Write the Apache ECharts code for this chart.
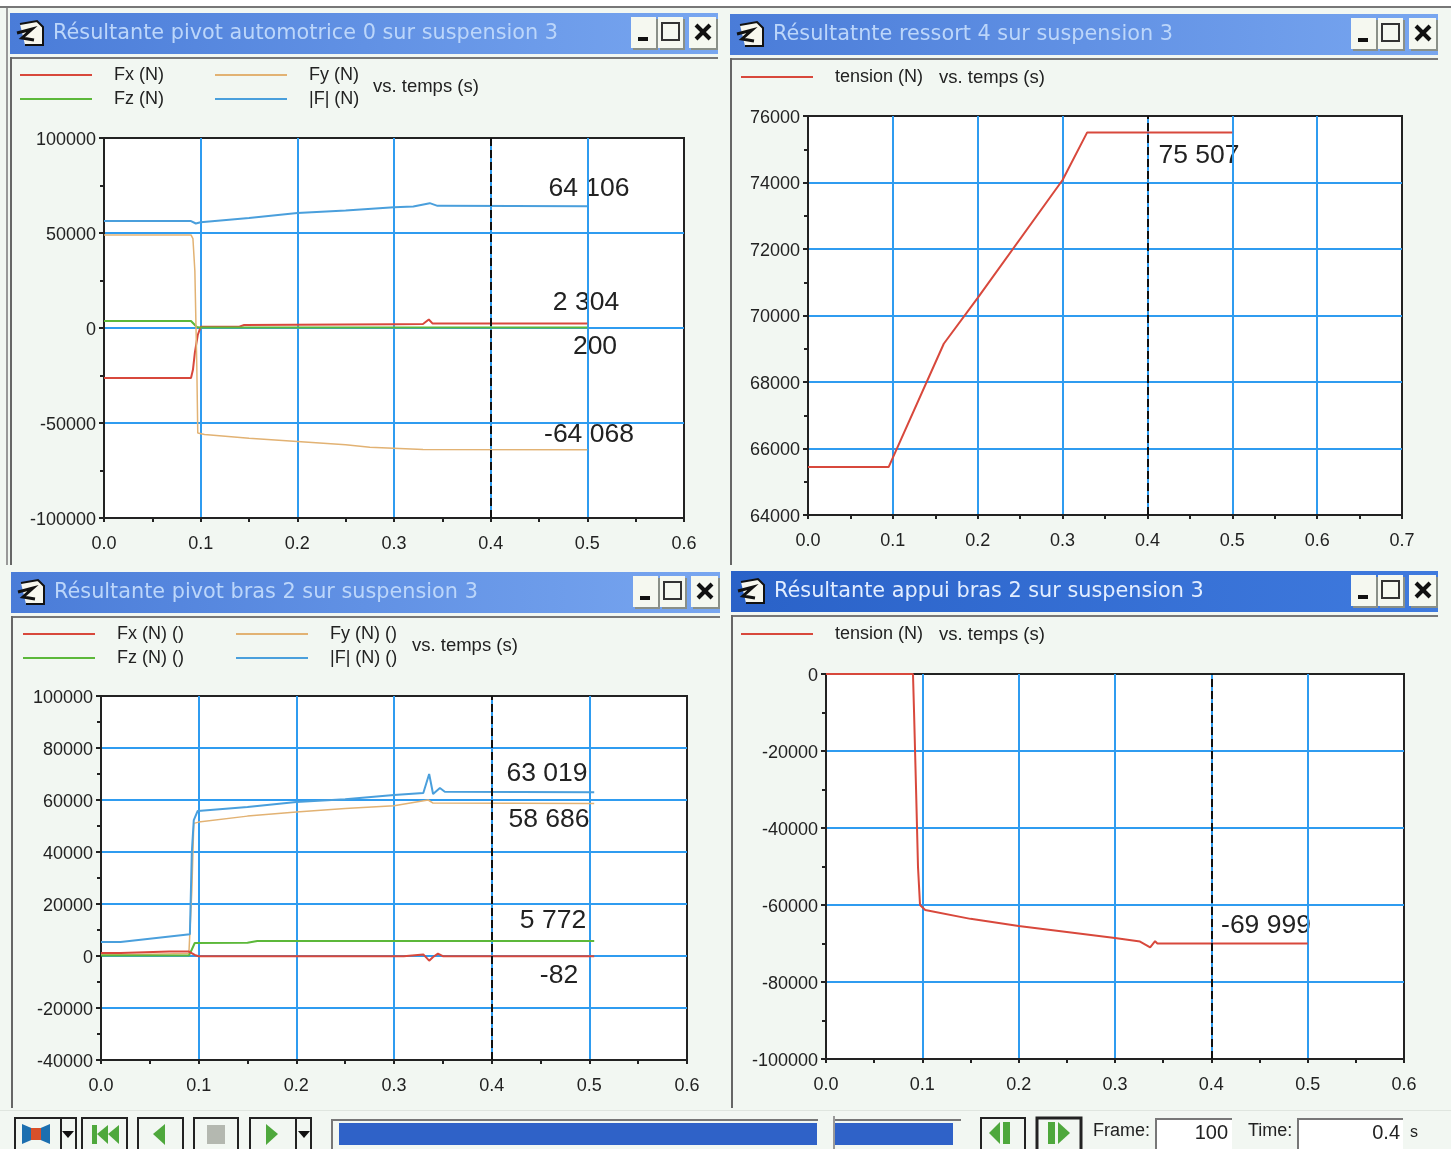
<!DOCTYPE html>
<html>
<head>
<meta charset="utf-8">
<title>Résultantes sur suspension 3</title>
<style>
html,body{margin:0;padding:0;background:#f2f7f2;}
#main{width:1451px;height:1149px;}
</style>
<script src="https://cdn.jsdelivr.net/npm/echarts@6/dist/echarts.min.js"></script>
</head>
<body>
<div id="main"></div>
<script>
// fenetre 1 : pivot automotrice
var a_fxT = [0,0.09,0.092,0.094,0.095,0.097,0.1,0.14,0.145,0.3,0.33,0.336,0.34,0.5];
var a_fx  = [-26300,-26300,-22000,-13000,-13000,-3700,600,700,1600,2000,2100,4500,2304,2304];
var a_fyT = [0,0.09,0.092,0.094,0.096,0.097,0.104,0.15,0.2,0.25,0.275,0.33,0.5];
var a_fy  = [49000,49000,47000,30000,-20000,-55300,-56000,-58000,-59800,-61500,-62800,-64000,-64068];
var a_fzT = [0,0.09,0.096,0.1,0.5];
var a_fz  = [3700,3700,500,200,200];
var a_frT = [0,0.09,0.095,0.1,0.15,0.2,0.25,0.3,0.32,0.337,0.345,0.5];
var a_fr  = [56300,56300,55000,55700,57900,60500,61800,63500,64000,65700,64300,64106];

// fenetre 2 : ressort
var b_t = [0,0.095,0.16,0.2,0.3,0.329,0.5];
var b_v = [65440,65440,69150,70530,74075,75507,75507];

// fenetre 3 : pivot bras
var c_fxT = [0,0.02,0.07,0.09,0.096,0.1,0.31,0.312,0.33,0.336,0.34,0.345,0.35,0.505];
var c_fx  = [1200,1200,1700,1700,400,-82,-82,600,600,-1800,-400,900,-82,-82];
var c_fyT = [0,0.02,0.09,0.093,0.095,0.1,0.15,0.2,0.25,0.3,0.335,0.34,0.505];
var c_fy  = [500,500,1000,25000,51000,51500,53800,55400,56700,57800,60000,58800,58686];
var c_fzT = [0,0.09,0.093,0.096,0.15,0.16,0.505];
var c_fz  = [200,200,2500,5000,5100,5772,5772];
var c_frT = [0,0.02,0.091,0.093,0.095,0.099,0.15,0.2,0.25,0.3,0.33,0.336,0.34,0.347,0.352,0.505];
var c_fr  = [5400,5400,8400,40000,52300,55800,57300,59200,60300,61900,62700,70000,62300,64600,63200,63019];

// fenetre 4 : appui bras
var d_t = [0,0.0903,0.0914,0.0935,0.0955,0.0976,0.103,0.15,0.2,0.3,0.326,0.3365,0.3416,0.344,0.5];
var d_v = [0,0,-9900,-30100,-50100,-60000,-61300,-63600,-65450,-68600,-69500,-71000,-69400,-69999,-69999];

var frameTime = 0.4;
var titles = ['Résultante pivot automotrice 0 sur suspension 3','Résultatnte ressort 4 sur suspension 3','Résultante pivot bras 2 sur suspension 3','Résultante appui bras 2 sur suspension 3'];
var namesA = ['Fx (N)','Fy (N)','Fz (N)','|F| (N)'];
var namesC = ['Fx (N) ()','Fy (N) ()','Fz (N) ()','|F| (N) ()'];
var nameTension = 'tension (N)';
var xLabel = 'vs. temps (s)';
var notesA = ['64 106','2 304','200','-64 068'];
var notesB = ['75 507'];
var notesC = ['63 019','58 686','5 772','-82'];
var notesD = ['-69 999'];
var frameValue = '100', timeValue = '0.4';

var RED = '#d8483c', TAN = '#e2b273', GREEN = '#5cb83a', BLUE = '#4a9fdc';
var GRIDC = '#2f9cf0';
var FONT = '"Liberation Sans",Arial,sans-serif';
var TITLEFONT = '"DejaVu Sans",sans-serif';

function zip(t, v){
    var out = [];
    for(var i=0;i<t.length;i++){ out.push([t[i], v[i]]); }
    return out;
}
function fmtX(v){ return v.toFixed(1); }
function fmtY(v){ return String(v); }

function gridOf(l,t,r,b){
    return {left:l, top:t, width:r-l, height:b-t, show:true, backgroundColor:'#fff', borderColor:'#222', borderWidth:2};
}
function xAxisOf(idx, max){
    return {
        type:'value', gridIndex:idx, min:0, max:max, interval:0.1,
        axisLine:{show:true, onZero:false, lineStyle:{color:'#222', width:2}},
        axisTick:{show:true, length:4, lineStyle:{color:'#222', width:2}},
        minorTick:{show:true, splitNumber:2, length:4, lineStyle:{color:'#222', width:2}},
        axisLabel:{color:'#222', fontSize:18, fontFamily:FONT, margin:17, formatter:fmtX, showMinLabel:true, showMaxLabel:true},
        splitLine:{show:true, showMinLine:false, showMaxLine:false, lineStyle:{color:GRIDC, width:2}}
    };
}
function yAxisOf(idx, min, max, step){
    return {
        type:'value', gridIndex:idx, min:min, max:max, interval:step,
        axisLine:{show:true, onZero:false, lineStyle:{color:'#222', width:2}},
        axisTick:{show:true, length:5, lineStyle:{color:'#222', width:2}},
        minorTick:{show:true, splitNumber:2, length:4, lineStyle:{color:'#222', width:2}},
        axisLabel:{color:'#222', fontSize:18, fontFamily:FONT, margin:8, verticalAlign:'top', lineHeight:4, formatter:fmtY, showMinLabel:true, showMaxLabel:true},
        splitLine:{show:true, showMinLine:false, showMaxLine:false, lineStyle:{color:GRIDC, width:2}}
    };
}
function lineOf(name, idx, data, color, withCursor, lw){
    var s = {
        type:'line', name:name, xAxisIndex:idx, yAxisIndex:idx, data:data,
        showSymbol:false, animation:false, silent:true, clip:false,
        lineStyle:{color:color, width:lw||2}, itemStyle:{color:color}
    };
    if(withCursor){
        s.markLine = {
            silent:true, symbol:'none', animation:false, label:{show:false},
            lineStyle:{color:'#111', type:'dashed', width:2},
            data:[{xAxis:frameTime}]
        };
    }
    return s;
}
function legendOf(name, left, top){
    return {
        data:[name], left:left, top:top, padding:0, selectedMode:false,
        icon:'rect', itemWidth:72, itemHeight:2,
        textStyle:{color:'#222', fontSize:18, fontFamily:FONT, padding:[2,0,0,17]}
    };
}

// ---- habillage des fenetres
var els = [];
function rect(x,y,w,h,fill,stroke,lw){
    els.push({type:'rect', shape:{x:x,y:y,width:w,height:h}, style:{fill:fill||'none', stroke:stroke||null, lineWidth:lw||1}, silent:true});
}
function poly(pts,fill){
    els.push({type:'polygon', shape:{points:pts}, style:{fill:fill}, silent:true});
}
function stroke(pts,color,lw){
    els.push({type:'polyline', shape:{points:pts}, style:{stroke:color, lineWidth:lw, fill:'none'}, silent:true});
}
function label(x,y,txt,size,color,align,family){
    els.push({type:'text', x:x, y:y, style:{text:txt, font:size+'px '+(family||FONT), fill:color||'#222', align:align||'left', verticalAlign:'middle'}, silent:true});
}
function gradBar(c1,c2){
    return {type:'linear', x:0, y:0, x2:1, y2:0, colorStops:[{offset:0,color:c1},{offset:1,color:c2}]};
}
function windowIcon(x,y){
    poly([[x,y+3],[x+17,y],[x+23,y+6],[x+23,y+24],[x+5,y+24]],'#f7f7ee');
    stroke([[x,y+3],[x+17,y],[x+23,y+6],[x+23,y+24],[x+5,y+24]],'#111',2);
    stroke([[x-3,y+12],[x+12,y+8],[x+2,y+17],[x+14,y+19]],'#111',3);
}
function windowFrame(x,y,w,titleTxt,c1,c2,txtColor,txtSize,clientBottom){
    rect(x,y,w,41,gradBar(c1,c2));
    windowIcon(x+10,y+8);
    label(x+43,y+21,titleTxt,txtSize,txtColor,'left',TITLEFONT);
    // boutons reduire / agrandir / fermer
    var bx = x+w-87;
    rect(bx+2,y+6,25,31,'#8a9088'); rect(bx+29,y+6,25,31,'#8a9088'); rect(bx+60,y+6,27,31,'#8a9088');
    rect(bx,y+4,25,31,'#f5f8f0'); rect(bx+27,y+4,25,31,'#f5f8f0'); rect(bx+58,y+4,27,31,'#f5f8f0');
    rect(bx+7,y+24,10,4,'#111');
    rect(bx+31,y+10,17,17,null,'#333',2);
    stroke([[bx+65,y+12],[bx+79,y+26]],'#111',4);
    stroke([[bx+79,y+12],[bx+65,y+26]],'#111',4);
    // bord de la zone client
    rect(x,y+44,w,2,'#777');
    rect(x,y+44,2,clientBottom-y-44,'#666');
}
function toolButton(x,w,lw,splitAt){
    rect(x,1118,w,34,'#f2f7f2','#222',lw||2);
    if(splitAt){ rect(x+splitAt,1118,2,34,'#222'); }
}

rect(0,0,1451,6,'#fff');
rect(0,6,1451,2,'#777');
rect(6,8,2,557,'#999');
windowFrame(10,13,708,titles[0],'#4a7cd8','#78a6f0','#bcd6fa',20.8,565);
windowFrame(730,14,708,titles[1],'#4a7cd8','#78a6f0','#bcd6fa',20.8,565);
windowFrame(11,572,709,titles[2],'#4a7cd8','#78a6f0','#bcd6fa',20.8,1108);
windowFrame(731,571,707,titles[3],'#2a62c8','#3f7ade','#e2edff',20.8,1108);
rect(0,1110,1451,1,'#dfe5df');

// textes des fenetres
label(373,87,xLabel,18.5);
label(939,78,xLabel,18.5);
label(412,646,xLabel,18.5);
label(939,635,xLabel,18.5);

// valeurs relevees
label(589,189,notesA[0],26.5,'#222','center');
label(586,303,notesA[1],26.5,'#222','center');
label(595,347,notesA[2],26.5,'#222','center');
label(589,435,notesA[3],26.5,'#222','center');
label(1199,156,notesB[0],26.5,'#222','center');
label(547,774,notesC[0],26.5,'#222','center');
label(549,820,notesC[1],26.5,'#222','center');
label(553,921,notesC[2],26.5,'#222','center');
label(559,976,notesC[3],26.5,'#222','center');
label(1266,926,notesD[0],26.5,'#222','center');

// barre d'outils
toolButton(15,61,2,45);
poly([[22,1124],[36,1130],[50,1124],[50,1144],[36,1138],[22,1144]],'#1c6fb0');
rect(31,1128,10,12,'#d9502a');
poly([[62,1131],[74,1131],[68,1138]],'#111');
toolButton(82,45);
rect(92,1125,5,19,'#4ea83c');
poly([[108,1125],[108,1144],[97,1134]],'#4ea83c');
poly([[119,1125],[119,1144],[108,1134]],'#4ea83c');
toolButton(138,45);
poly([[165,1124],[165,1145],[153,1134]],'#4ea83c');
toolButton(194,44);
rect(207,1125,18,19,'#b4b8b0');
toolButton(250,61,2,45);
poly([[266,1124],[266,1145],[278,1134]],'#4ea83c');
poly([[298,1131],[310,1131],[304,1138]],'#111');
rect(331,1119,2,30,'#777');
rect(331,1119,630,2,'#777');
rect(339,1123,478,22,'#2f62c8');
rect(835,1123,118,22,'#2f62c8');
rect(818,1116,15,33,'#f2f7f2');
rect(833,1116,2,33,'#999');
toolButton(981,44);
poly([[1000,1122],[1000,1144],[989,1133]],'#4ea83c');
rect(1003,1122,7,22,'#4ea83c');
toolButton(1037,44,3);
rect(1048,1122,7,22,'#4ea83c');
poly([[1058,1122],[1058,1144],[1070,1133]],'#4ea83c');
label(1093,1131,'Frame:',18);
rect(1155,1118,77,32,'#fff');
rect(1155,1118,77,2,'#777');
rect(1155,1118,2,32,'#777');
label(1228,1133,frameValue,20,'#222','right');
label(1248,1131,'Time:',18);
rect(1297,1118,106,32,'#fff');
rect(1297,1118,106,2,'#777');
rect(1297,1118,2,32,'#777');
label(1400,1133,timeValue,20,'#222','right');
label(1410,1133,'s',16);

var option = {
    backgroundColor:'#f2f7f2',
    animation:false,
    textStyle:{fontFamily:FONT},
    legend:[
        legendOf(namesA[0],20,66), legendOf(namesA[1],215,66),
        legendOf(namesA[2],20,90), legendOf(namesA[3],215,90),
        legendOf(nameTension,741,68),
        legendOf(namesC[0],23,625), legendOf(namesC[1],236,625),
        legendOf(namesC[2],23,649), legendOf(namesC[3],236,649),
        legendOf(nameTension,741,625)
    ],
    grid:[
        gridOf(104,138,684,518),
        gridOf(808,116,1402,515),
        gridOf(101,696,687,1060),
        gridOf(826,674,1404,1059)
    ],
    xAxis:[xAxisOf(0,0.6), xAxisOf(1,0.7), xAxisOf(2,0.6), xAxisOf(3,0.6)],
    yAxis:[
        yAxisOf(0,-100000,100000,50000),
        yAxisOf(1,64000,76000,2000),
        yAxisOf(2,-40000,100000,20000),
        yAxisOf(3,-100000,0,20000)
    ],
    series:[
        lineOf(namesA[0],0,zip(a_fxT,a_fx),RED,true),
        lineOf(namesA[2],0,zip(a_fzT,a_fz),GREEN),
        lineOf(namesA[3],0,zip(a_frT,a_fr),BLUE),
        lineOf(namesA[1],0,zip(a_fyT,a_fy),TAN,false,1.5),
        lineOf(nameTension,1,zip(b_t,b_v),RED,true),
        lineOf(namesC[1],2,zip(c_fyT,c_fy),TAN,true,1.5),
        lineOf(namesC[3],2,zip(c_frT,c_fr),BLUE),
        lineOf(namesC[2],2,zip(c_fzT,c_fz),GREEN),
        lineOf(namesC[0],2,zip(c_fxT,c_fx),RED),
        lineOf(nameTension,3,zip(d_t,d_v),RED,true)
    ],
    graphic:{elements:els}
};

var chart = echarts.init(document.getElementById('main'));
chart.setOption(option);
</script>
</body>
</html>
